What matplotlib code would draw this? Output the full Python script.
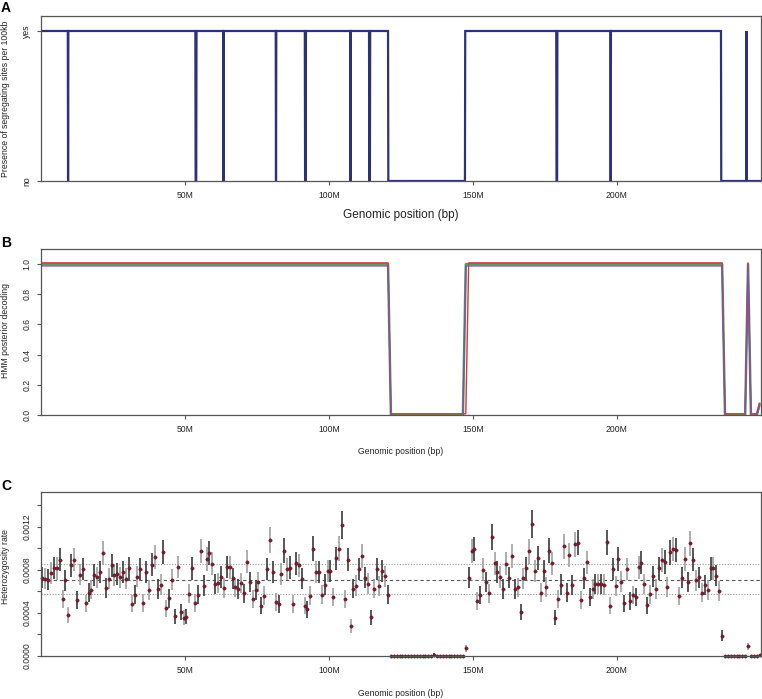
import numpy as np
import matplotlib.pyplot as plt

plt.rcParams['font.family'] = ['Liberation Sans', 'DejaVu Sans']

# shared x axis (Mb)
chrom_len_mb = 250
tick_pos_mb = [50, 100, 150, 200]
tick_labels = ['50M', '100M', '150M', '200M']

# panel A: stretches (Mb) of 100kb windows without segregating sites
absent_start = [9.4, 53.7, 63.4, 81.6, 91.7, 107.5, 114.0, 120.6, 179.0, 197.8, 236.2, 245.1]
absent_end = [9.5, 54.0, 63.5, 81.7, 92.0, 107.6, 114.3, 147.3, 179.3, 197.9, 245.0, 250.0]

# panel B: posterior decoding per 1Mb window, as runs (first window, last window, value)
red_runs = [(0, 120, 1.0), (121, 147, 0.0), (148, 236, 1.0), (237, 244, 0.0),
            (245, 245, 1.0), (246, 248, 0.0), (249, 249, 0.07)]
green_runs = [(0, 120, 1.0), (121, 146, 0.0), (147, 236, 1.0), (237, 244, 0.0),
              (245, 245, 1.0), (246, 248, 0.0), (249, 249, 0.07)]
purple_runs = [(0, 120, 1.0), (121, 146, 0.0), (147, 236, 1.0), (237, 244, 0.0),
               (245, 245, 1.0), (246, 248, 0.0), (249, 249, 0.07)]

# panel C: heterozygosity per 1Mb window (x 1e-3)
het_e3 = [
    0.727, 0.718, 0.708, 0.773, 0.816, 0.813, 0.893, 0.527, 0.702, 0.379,
    0.841, 0.893, 0.521, 0.755, 0.807, 0.487, 0.588, 0.616, 0.751, 0.730,
    0.782, 0.955, 0.628, 0.718, 0.841, 0.751, 0.758, 0.730, 0.776, 0.718,
    0.813, 0.484, 0.567, 0.736, 0.804, 0.493, 0.776, 0.610, 0.844, 0.921,
    0.622, 0.662, 0.964, 0.441, 0.533, 0.708, 0.367, 0.825, 0.404, 0.355,
    0.364, 0.579, 0.813, 0.493, 0.567, 0.973, 0.653, 0.902, 0.955, 0.856,
    0.668, 0.675, 0.733, 0.631, 0.825, 0.822, 0.721, 0.635, 0.622, 0.678,
    0.582, 0.875, 0.687, 0.524, 0.610, 0.684, 0.468, 0.558, 0.807, 1.078,
    0.782, 0.499, 0.481, 0.758, 0.976, 0.804, 0.819, 0.481, 0.859, 0.841,
    0.718, 0.468, 0.431, 0.558, 0.995, 0.779, 0.779, 0.570, 0.662, 0.791,
    0.791, 0.545, 0.905, 0.995, 1.213, 0.527, 0.893, 0.278, 0.625, 0.653,
    0.804, 0.927, 0.727, 0.671, 0.361, 0.625, 0.804, 0.650, 0.791, 0.739,
    0.567, 0.0, 0.0, 0.0, 0.0, 0.0, 0.0, 0.0, 0.0, 0.0,
    0.0, 0.0, 0.0, 0.0, 0.0, 0.0, 0.012, 0.0, 0.0, 0.0,
    0.0, 0.0, 0.0, 0.0, 0.0, 0.0, 0.0, 0.071, 0.724, 0.973,
    0.991, 0.512, 0.564, 0.801, 0.684, 0.582, 1.099, 0.859, 0.779, 0.733,
    0.622, 0.853, 0.724, 0.927, 0.619, 0.635, 0.410, 0.721, 0.813, 0.970,
    1.222, 0.788, 0.911, 0.585, 0.788, 0.644, 0.976, 0.859, 0.355, 0.524,
    0.662, 1.016, 0.585, 0.939, 0.659, 1.035, 1.050, 0.515, 0.721, 0.868,
    0.548, 0.619, 0.668, 0.668, 0.668, 0.662, 1.053, 0.465, 0.804, 0.647,
    0.899, 0.690, 0.487, 0.804, 0.512, 0.564, 0.545, 0.822, 0.865, 0.668,
    0.472, 0.573, 0.739, 0.619, 0.813, 0.890, 0.871, 0.641, 0.961, 0.991,
    0.982, 0.555, 0.727, 0.902, 0.684, 1.044, 0.893, 0.702, 0.730, 0.588,
    0.659, 0.613, 0.813, 0.813, 0.745, 0.604, 0.188, 0.0, 0.0, 0.0,
    0.0, 0.0, 0.0, 0.0, 0.0, 0.090, 0.0, 0.0, 0.0, 0.005,
]
het_mean = 0.000708
het_low = 0.000579
het_high = 0.000852
ci_scale = 0.00365  # half-width of the interval per sqrt(rate)

W, H = 762, 699
fig = plt.figure(figsize=(W / 100, H / 100), dpi=100, facecolor='white')


def px_axes(top, bottom, left=41, right=761):
    return fig.add_axes([left / W, 1 - bottom / H, (right - left) / W, (bottom - top) / H])


def style_axes(ax):
    for s in ax.spines.values():
        s.set_color('#555555')
        s.set_linewidth(0.9)
    ax.set_xlim(0, chrom_len_mb)
    ax.set_xticks(tick_pos_mb)
    ax.set_xticklabels(tick_labels)
    ax.tick_params(axis='both', colors='#555555', labelcolor='#222222', length=3,
                   width=0.8, labelsize=6.2, pad=4)
    ax.tick_params(axis='y', labelrotation=90)
    for lab in ax.get_yticklabels():
        lab.set_va('center')


def runs_to_series(runs):
    vals = np.zeros(chrom_len_mb)
    for a, b, v in runs:
        vals[a:b + 1] = v
    return vals


# ---- panel A
axA = px_axes(16, 181)
pos_100kb = np.arange(0, chrom_len_mb, 0.1)
presence = np.ones_like(pos_100kb)
for s, e in zip(absent_start, absent_end):
    presence[(pos_100kb >= s - 1e-9) & (pos_100kb < e - 1e-9)] = 0
axA.plot(pos_100kb, presence, color='#2d3278', lw=1.6, solid_joinstyle='miter')
axA.set_ylim(0, 1.1)
axA.set_yticks([0, 1])
axA.set_yticklabels(['no', 'yes'])
style_axes(axA)

# ---- panel B (small offsets keep the three overlapping traces visible)
axB = px_axes(249, 415)
win_centers = np.arange(chrom_len_mb) + 0.5
axB.plot(win_centers, runs_to_series(green_runs), color='#5c9a62', lw=1.8)
axB.plot(win_centers, runs_to_series(red_runs) + 0.008, color='#cc3b3b', lw=1.0)
axB.plot(win_centers, runs_to_series(purple_runs) - 0.012, color='#7a56a6', lw=1.0)
axB.set_ylim(0, 1.1)
axB.set_yticks(np.arange(0, 1.01, 0.2))
axB.set_yticklabels(['0.0', '0.2', '0.4', '0.6', '0.8', '1.0'])
style_axes(axB)

# ---- panel C
axC = px_axes(492, 656)
het = np.array(het_e3) * 1e-3
err = ci_scale * np.sqrt(het)
bar_cols = ['#3a3a3a' if i % 2 == 0 else '#a0a0a0' for i in range(len(het))]
axC.axhline(het_mean, color='#555566', lw=0.8, ls=(0, (3, 2.5)))
axC.axhline(het_low, color='#9a9a9a', lw=0.8, ls=(0, (1, 1.5)))
axC.axhline(het_high, color='#9a9a9a', lw=0.8, ls=(0, (1, 1.5)))
axC.vlines(win_centers, het - err, het + err, colors=bar_cols, lw=1.2)
axC.plot(win_centers, het, 'o', ms=2.4, color='#7a1b2a', mec='#5a1220', mew=0.3, clip_on=False)
axC.set_ylim(0, 0.00152)
axC.set_yticks(np.arange(0, 0.00141, 0.0002))
axC.set_yticklabels(['0.0000', '', '0.0004', '', '0.0008', '', '0.0012', ''])
style_axes(axC)

# labels
cx = 401 / W
fig.text(cx, 1 - 215 / H, 'Genomic position (bp)', ha='center', va='center', fontsize=8.5, color='#222222')
fig.text(cx, 1 - 452 / H, 'Genomic position (bp)', ha='center', va='center', fontsize=6.2, color='#222222')
fig.text(cx, 1 - 693 / H, 'Genomic position (bp)', ha='center', va='center', fontsize=6.2, color='#222222')
fig.text(6 / W, 1 - 99 / H, 'Presence of segregating sites per 100kb', rotation=90,
         ha='center', va='center', fontsize=6.2, color='#222222')
fig.text(6 / W, 1 - 330 / H, 'HMM posterior decoding', rotation=90,
         ha='center', va='center', fontsize=6.2, color='#222222')
fig.text(6 / W, 1 - 566 / H, 'Heterozygosity rate', rotation=90,
         ha='center', va='center', fontsize=6.2, color='#222222')
for letter, y in [('A', 8), ('B', 243), ('C', 486)]:
    fig.text(1 / W, 1 - y / H, letter, ha='left', va='center', fontsize=10, fontweight='bold')

fig.savefig('out.png', dpi=100, facecolor='white')
